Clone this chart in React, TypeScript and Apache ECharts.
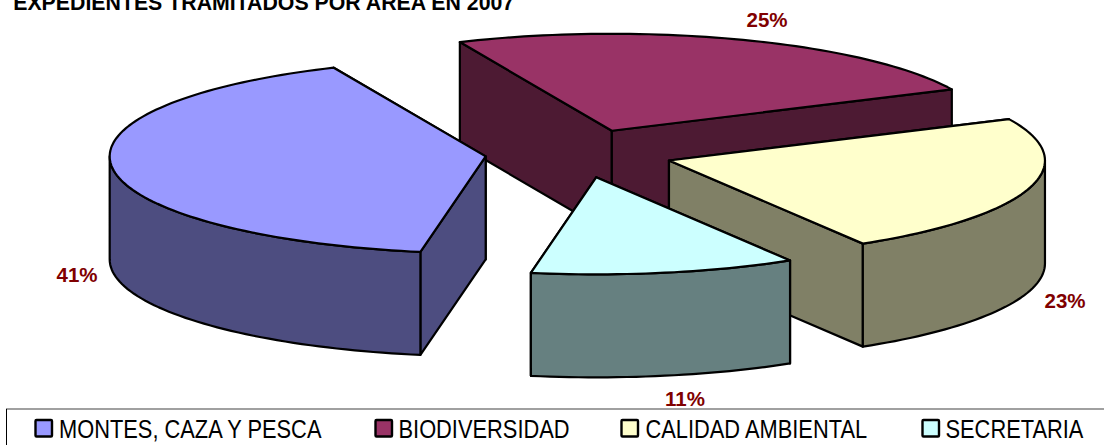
import React, { useEffect, useRef } from "react";
import * as echarts from "echarts";

const categories = ["MONTES, CAZA Y PESCA", "BIODIVERSIDAD", "CALIDAD AMBIENTAL", "SECRETARIA"];
const shares = [40.6, 24.6, 23.4, 11.4];
const titleText = "EXPEDIENTES TRAMITADOS POR AREA EN 2007";

const topColors = ["#9999FF", "#993366", "#FFFFCC", "#CCFFFF"];
const wallColors = ["#4D4D80", "#4D1A33", "#808066", "#668080"];
const labelPositions = [[77, 274], [767, 19], [1065, 300], [685, 398]];
const legendSwatchX = [35.5, 375.5, 621.5, 922.5];
const legendTextX = [59, 398.5, 645.5, 945.5];
const drawOrder = [1, 0, 2, 3];

const FIRST_ANGLE = 190;
const CX = 579, CY = 153.5, RX = 376, RY = 97, DEPTH = 103, EXPLODE = 0.25;

const total = shares.reduce((a, b) => a + b, 0);
const rad = (d: number) => (d * Math.PI) / 180;

function sliceAngles(index: number) {
  let start = FIRST_ANGLE;
  for (let i = 0; i < index; i++) start += (shares[i] / total) * 360;
  return [start, start + (shares[index] / total) * 360];
}

function renderSlice(index: number) {
  return (_params: any, api: any) => {
    const value = api.value(0);
    const [a0, a1] = sliceAngles(index);
    const mid = (a0 + a1) / 2;
    const ox = CX + EXPLODE * RX * Math.sin(rad(mid));
    const oy = CY - EXPLODE * RY * Math.cos(rad(mid));
    const pt = (a: number, dy = 0) => [ox + RX * Math.sin(rad(a)), oy - RY * Math.cos(rad(a)) + dy];
    const arc = (from: number, to: number, dy = 0) => {
      const n = Math.max(2, Math.ceil(Math.abs(to - from) / 1.5));
      const pts: number[][] = [];
      for (let i = 0; i <= n; i++) pts.push(pt(from + ((to - from) * i) / n, dy));
      return pts;
    };
    const stroke = { stroke: "#000", lineWidth: 2.2, lineJoin: "round" };
    const wall = { fill: wallColors[index], ...stroke };
    const top = { fill: topColors[index], ...stroke };
    const children: any[] = [];
    const poly = (points: number[][], style: any) =>
      children.push({ type: "polygon", shape: { points }, style });

    const apex = [ox, oy];
    const apexLow = [ox, oy + DEPTH];
    // the cut wall that lies further back is painted first
    const cuts = pt(a0)[1] < pt(a1)[1] ? [a0, a1] : [a1, a0];
    for (const a of cuts) poly([apex, pt(a), pt(a, DEPTH), apexLow], wall);

    // the outer wall only shows on the near half of the ellipse
    for (const shift of [0, 360]) {
      const from = Math.max(a0, 90 + shift);
      const to = Math.min(a1, 270 + shift);
      if (from < to) poly([...arc(from, to), ...arc(to, from, DEPTH)], wall);
    }
    poly([apex, ...arc(a0, a1)], top);

    const [lx, ly] = labelPositions[index];
    children.push({
      type: "text",
      x: lx,
      y: ly,
      style: {
        text: `${Math.round((value / total) * 100)}%`,
        fill: "#800000",
        font: "bold 20.5px 'Liberation Sans', Arial, sans-serif",
        align: "center",
        verticalAlign: "middle",
      },
    });
    return { type: "group", children };
  };
}

export default function App() {
  const ref = useRef<HTMLDivElement>(null);
  useEffect(() => {
    document.body.style.margin = "0";
    const chart = echarts.init(ref.current!, null, { renderer: "svg" });
    const legendItems = categories.flatMap((name, i) => [
      {
        type: "rect",
        shape: { x: legendSwatchX[i], y: 420, width: 16.5, height: 16.5, r: 1 },
        style: { fill: topColors[i], stroke: "#000", lineWidth: 2.4 },
      },
      {
        type: "text",
        x: legendTextX[i],
        y: 428.5,
        scaleX: 0.84,
        style: {
          text: name,
          fill: "#000",
          font: "26px 'Liberation Sans', Arial, sans-serif",
          verticalAlign: "middle",
        },
      },
    ]);
    chart.setOption({
      animation: false,
      backgroundColor: "#fff",
      graphic: [
        {
          type: "text",
          x: 13.2,
          y: 13,
          style: {
            text: titleText,
            fill: "#000",
            font: "bold 21.3px 'Liberation Sans', Arial, sans-serif",
            verticalAlign: "bottom",
          },
        },
        { type: "line", shape: { x1: 6, y1: 409, x2: 1104, y2: 409 }, style: { stroke: "#808080", lineWidth: 1.5 } },
        { type: "line", shape: { x1: 6.5, y1: 409, x2: 6.5, y2: 445 }, style: { stroke: "#000", lineWidth: 1 } },
        ...legendItems,
      ],
      series: drawOrder.map((i) => ({
        type: "custom",
        name: categories[i],
        coordinateSystem: "none",
        data: [[shares[i]]],
        itemStyle: { color: topColors[i] },
        renderItem: renderSlice(i),
      })),
    });
    return () => chart.dispose();
  }, []);
  return <div ref={ref} style={{ width: 1104, height: 445 }} />;
}
